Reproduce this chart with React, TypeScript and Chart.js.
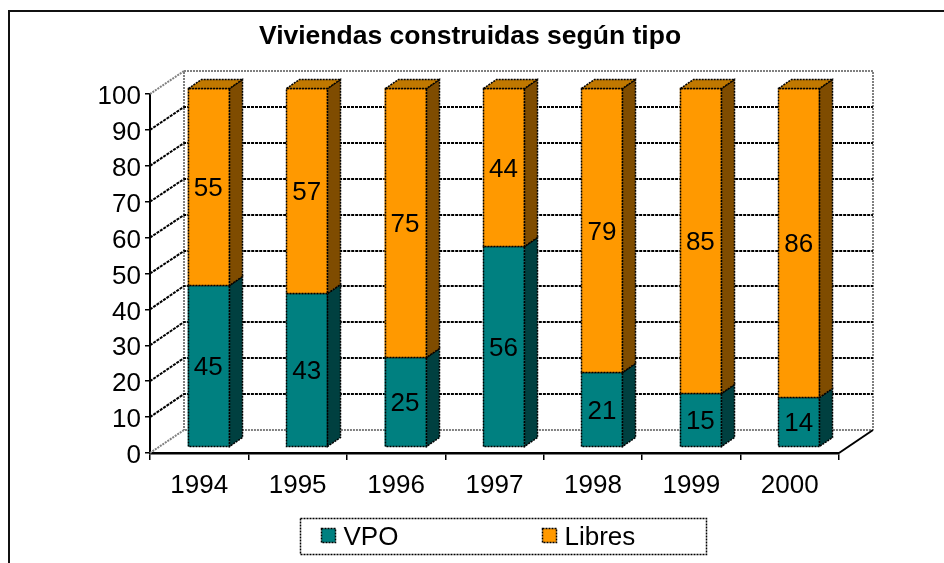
import React, { useEffect, useRef } from "react";
import { Chart, registerables } from "chart.js";

Chart.register(...registerables);

const categories = ["1994", "1995", "1996", "1997", "1998", "1999", "2000"];
const vpo = [45, 43, 25, 56, 21, 15, 14];
const libres = [55, 57, 75, 44, 79, 85, 86];
const seriesNames = ["VPO", "Libres"];
const titleText = "Viviendas construidas según tipo";

const FONT = "'Liberation Sans', Arial, sans-serif";
const FS = 26;
const FRONT = ["#008080", "#FF9900"];
const SIDE = ["#004040", "#7F4C00"];
const TOP = ["#006060", "#C07800"];

// 3D geometry
const DX = 33.5, DY = -23; // wall depth
const BX = 9, BY = -6; // bar front-face offset
const SX = 13, SY = -9; // bar depth

const h = (v: number) => Math.round(v) + 0.5;
const r = (v: number) => Math.round(v);

function line(ctx: CanvasRenderingContext2D, pts: number[][], color: string, dash: number[], w = 1) {
  ctx.save();
  ctx.strokeStyle = color;
  ctx.lineWidth = w;
  ctx.setLineDash(dash);
  ctx.beginPath();
  ctx.moveTo(pts[0][0], pts[0][1]);
  for (let i = 1; i < pts.length; i++) ctx.lineTo(pts[i][0], pts[i][1]);
  ctx.stroke();
  ctx.restore();
}

function poly(ctx: CanvasRenderingContext2D, pts: number[][], fill: string) {
  ctx.save();
  ctx.fillStyle = fill;
  ctx.beginPath();
  ctx.moveTo(pts[0][0], pts[0][1]);
  for (let i = 1; i < pts.length; i++) ctx.lineTo(pts[i][0], pts[i][1]);
  ctx.closePath();
  ctx.fill();
  ctx.strokeStyle = "#000";
  ctx.lineWidth = 1.5;
  ctx.setLineDash([2, 1]);
  ctx.stroke();
  ctx.restore();
}

const threeD = {
  id: "threeD",
  beforeDraw(chart: any) {
    const ctx = chart.ctx as CanvasRenderingContext2D;
    ctx.save();
    ctx.fillStyle = "#fff";
    ctx.fillRect(0, 0, chart.width, chart.height);
    ctx.restore();
    line(ctx, [[9, 563], [9, 11], [944, 11]], "#111", [], 2);
    ctx.save();
    ctx.font = `bold 26.5px ${FONT}`;
    ctx.fillStyle = "#000";
    ctx.textAlign = "center";
    ctx.textBaseline = "middle";
    ctx.fillText(titleText, 470, 37);
    ctx.restore();
  },
  beforeDatasetsDraw(chart: any) {
    const ctx = chart.ctx as CanvasRenderingContext2D;
    const { left: L, right: R, top: T, bottom: B } = chart.chartArea;
    const ys = chart.scales.y;
    const gray = "#808080";
    const bx = r(L + DX), rx = r(R + DX), ty = r(T + DY), by = r(B + DY);
    // walls
    line(ctx, [[bx, ty], [rx, ty], [rx, by]], gray, [2, 1], 2);
    line(ctx, [[L, T], [bx, ty], [bx, by]], gray, [2, 1], 2);
    line(ctx, [[L, B], [bx, by], [rx, by]], gray, [2, 1], 2);
    line(ctx, [[R, B], [rx, by]], "#000", [], 2);
    ys.ticks.forEach((t: any) => {
      if (t.value <= 0 || t.value >= 100) return;
      const y = ys.getPixelForValue(t.value);
      line(ctx, [[L, y], [bx, r(y + DY)], [rx, r(y + DY)]], "#000", [3, 1], 2);
    });
    ctx.save();
    ctx.translate(BX, BY);
  },
  afterDatasetsDraw(chart: any) {
    const ctx = chart.ctx as CanvasRenderingContext2D;
    const n = chart.data.datasets.length;
    chart.data.datasets.forEach((ds: any, di: number) => {
      const meta = chart.getDatasetMeta(di);
      meta.data.forEach((bar: any, i: number) => {
        const p = bar.getProps(["x", "y", "base", "width"], true);
        const x1 = h(p.x - p.width / 2), x2 = h(p.x + p.width / 2);
        const top = h(Math.min(p.y, p.base)), bot = h(Math.max(p.y, p.base));
        poly(ctx, [[x1, top], [x2, top], [x2, bot], [x1, bot]], FRONT[di]);
        poly(ctx, [[x2, top], [x2 + SX, top + SY], [x2 + SX, bot + SY], [x2, bot]], SIDE[di]);
        if (di === n - 1) {
          poly(ctx, [[x1, top], [x1 + SX, top + SY], [x2 + SX, top + SY], [x2, top]], TOP[di]);
        }
        ctx.save();
        ctx.font = `${FS}px ${FONT}`;
        ctx.fillStyle = "#000";
        ctx.textAlign = "center";
        ctx.textBaseline = "middle";
        ctx.fillText(String(ds.data[i]), p.x, (top + bot) / 2 + 2);
        ctx.restore();
      });
    });
    ctx.restore();
    // legend
    line(ctx, [[300.5, 518.5], [706.5, 518.5], [706.5, 554.5], [300.5, 554.5], [300.5, 518.5]], "#000", [2, 1], 1.5);
    const lx = [321.5, 542.5];
    seriesNames.forEach((name, k) => {
      poly(ctx, [[lx[k], 528.5], [lx[k] + 14, 528.5], [lx[k] + 14, 542.5], [lx[k], 542.5]], FRONT[k]);
      ctx.save();
      ctx.font = `${FS}px ${FONT}`;
      ctx.fillStyle = "#000";
      ctx.textAlign = "left";
      ctx.textBaseline = "middle";
      ctx.fillText(name, lx[k] + 22, 538);
      ctx.restore();
    });
  },
};

export default function App() {
  const ref = useRef<HTMLCanvasElement | null>(null);
  useEffect(() => {
    if (!ref.current) return;
    const chart = new Chart(ref.current, {
      type: "bar",
      data: {
        labels: categories,
        datasets: [
          { label: seriesNames[0], data: vpo, backgroundColor: FRONT[0], borderWidth: 0, barPercentage: 0.417, categoryPercentage: 1 },
          { label: seriesNames[1], data: libres, backgroundColor: FRONT[1], borderWidth: 0, barPercentage: 0.417, categoryPercentage: 1 },
        ],
      },
      options: {
        animation: false,
        responsive: false,
        devicePixelRatio: 1,
        events: [],
        layout: { padding: { top: 94, right: 105, left: 0, bottom: 0 } },
        plugins: { legend: { display: false }, title: { display: false }, tooltip: { enabled: false } },
        scales: {
          x: {
            stacked: true,
            offset: true,
            afterFit: (s: any) => { s.height = 110; },
            grid: { drawOnChartArea: false, drawTicks: true, tickLength: 7, color: "#000", lineWidth: 1.5 },
            border: { display: true, color: "#000", width: 2.5 },
            ticks: { font: { family: FONT, size: FS }, color: "#000", padding: 10 },
          },
          y: {
            stacked: true,
            min: 0,
            max: 100,
            afterFit: (s: any) => { s.width = 150; },
            grid: { drawOnChartArea: false, drawTicks: true, tickLength: 5, color: "#000", lineWidth: 1.5 },
            border: { display: true, color: "#000", width: 2, dash: [2, 1] },
            ticks: { stepSize: 10, font: { family: FONT, size: FS }, color: "#000", padding: 4, labelOffset: 3 },
          },
        },
      },
      plugins: [threeD],
    });
    return () => chart.destroy();
  }, []);
  return (
    <div style={{ position: "fixed", left: 0, top: 0, width: 944, height: 563, background: "#fff" }}>
      <canvas ref={ref} width={944} height={563} style={{ display: "block" }} />
    </div>
  );
}
